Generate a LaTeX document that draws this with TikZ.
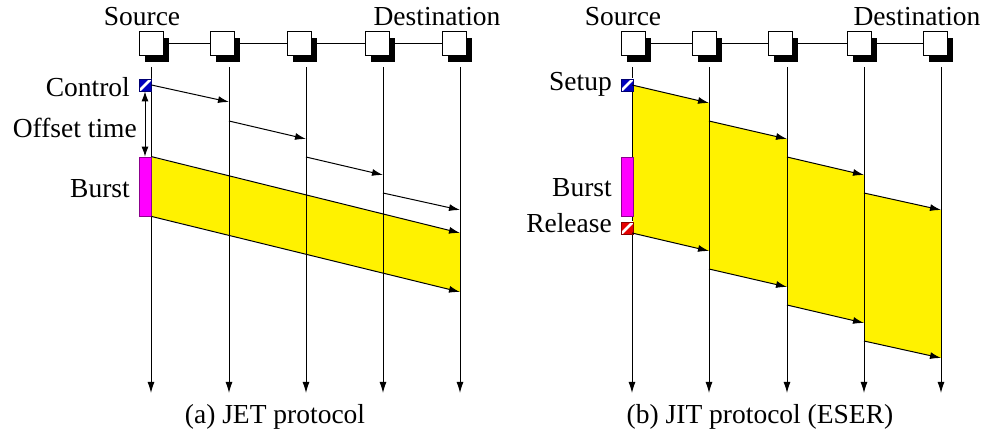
\documentclass[tikz,border=0pt]{standalone}
\usepackage{fontspec}
\setmainfont{LiberationSerif}[Extension=.ttf, UprightFont=*-Regular]
\usetikzlibrary{arrows.meta,shadows}
\definecolor{ctlblue}{RGB}{0,0,190}
\definecolor{ctlred}{RGB}{230,0,0}
\definecolor{burstmag}{RGB}{255,0,255}
\begin{document}
\begin{tikzpicture}[x=1pt,y=-1pt,
  lbl/.style={font=\rmfamily\fontsize{27.5}{30}\selectfont, inner sep=0pt},
  station/.style={draw, fill=white, minimum size=24pt, inner sep=0pt, line width=1pt,
    drop shadow={shadow xshift=6pt, shadow yshift=-6pt, fill=black, opacity=1}},
  link/.style={line width=1pt},
  timeline/.style={line width=1pt, -{Latex[length=11pt,width=7pt]}},
  msg/.style={line width=1pt, -{Latex[length=11pt,width=7pt]}},
  band/.style={fill=yellow},
  burstbox/.style={draw=burstmag!55!black, fill=burstmag, line width=0.8pt,
    minimum width=12pt, minimum height=59pt, inner sep=0pt},
  hatchbox/.style={draw=#1!60!black, fill=#1, line width=0.8pt,
    minimum size=12pt, inner sep=0pt,
    path picture={\draw[white, line width=2.6pt]
      ([xshift=-2pt,yshift=-2pt]path picture bounding box.south west) --
      ([xshift=2pt,yshift=2pt]path picture bounding box.north east);}},
]
\useasboundingbox (0,0) rectangle (986,438);

% ---------------- (a) JET ----------------
% yellow burst band
\fill[band] (151,157) -- (460,233) -- (460,292) -- (151,216) -- cycle;

% node time lines
\foreach \x [count=\i] in {151,229,306,383,460}{
  \coordinate (at\i) at (\x,67);
  \coordinate (ab\i) at (\x,393);
  \draw[timeline] (at\i) -- (ab\i);
}

% stations
\foreach \x [count=\i] in {151,222,299,377,454}
  \node[station] (s\i) at (\x,44) {};
\foreach \i/\j in {1/2,2/3,3/4,4/5}
  \draw[link] (s\i) -- (s\j);
\foreach \i in {1,...,5}
  \node[station] at (s\i) {};

\node[lbl, anchor=base] (srcA) at (142,26) {Source};
\node[lbl, anchor=base] (dstA) at (437,26) {Destination};

% control packet and burst
\node[hatchbox=ctlblue] (ctlA) at (145,85) {};
\node[burstbox] (burstA) at (145,186.5) {};
\node[lbl, anchor=base east] (lctl) at (130,97) {Control};
\node[lbl, anchor=base east] (loff) at (137,138) {Offset time};
\node[lbl, anchor=base east] (lbA) at (130,198) {Burst};
\draw[line width=1pt, {Latex[length=10pt,width=7pt]}-{Latex[length=10pt,width=7pt]}]
  (ctlA.south) -- (burstA.north);

% control message hops
\coordinate (c1e) at (229,102);
\coordinate (c2s) at (229,121); \coordinate (c2e) at (306,139);
\coordinate (c3s) at (306,157); \coordinate (c3e) at (383,175);
\coordinate (c4s) at (383,193); \coordinate (c4e) at (460,210);
\draw[msg] (ctlA.east) -- (c1e);
\draw[msg] (c2s) -- (c2e);
\draw[msg] (c3s) -- (c3e);
\draw[msg] (c4s) -- (c4e);

% burst edges
\coordinate (bte) at (460,233);
\coordinate (bbe) at (460,292);
\draw[msg] (burstA.north east) -- (bte);
\draw[msg] (burstA.south east) -- (bbe);

\node[lbl, anchor=base] (capA) at (275,424) {(a) JET protocol};

% ---------------- (b) JIT ----------------
% per-hop reserved periods
\fill[band] (632,85)  -- (709,103) -- (709,251) -- (632,233) -- cycle;
\fill[band] (709,121) -- (787,139) -- (787,287) -- (709,269) -- cycle;
\fill[band] (787,157) -- (864,175) -- (864,323) -- (787,305) -- cycle;
\fill[band] (864,193) -- (941,210) -- (941,358) -- (864,341) -- cycle;

\foreach \x [count=\i] in {632,709,787,864,941}{
  \coordinate (bt\i) at (\x,67);
  \coordinate (bb\i) at (\x,393);
  \draw[timeline] (bt\i) -- (bb\i);
}

\foreach \x [count=\i] in {633,704,780,859,935}
  \node[station] (t\i) at (\x,44) {};
\foreach \i/\j in {1/2,2/3,3/4,4/5}
  \draw[link] (t\i) -- (t\j);
\foreach \i in {1,...,5}
  \node[station] at (t\i) {};

\node[lbl, anchor=base] (srcB) at (623,26) {Source};
\node[lbl, anchor=base] (dstB) at (917,26) {Destination};

\node[hatchbox=ctlblue] (setup) at (627,85) {};
\node[burstbox] (burstB) at (627,186.5) {};
\node[hatchbox=ctlred] (rel) at (627,228) {};
\node[lbl, anchor=base east] (lsetup) at (612,91) {Setup};
\node[lbl, anchor=base east] (lbB) at (612,197) {Burst};
\node[lbl, anchor=base east] (lrel) at (612,233) {Release};

% setup hops (tops of the bands)
\coordinate (u1s) at (632,85);  \coordinate (u1e) at (709,103);
\coordinate (u2s) at (709,121); \coordinate (u2e) at (787,139);
\coordinate (u3s) at (787,157); \coordinate (u3e) at (864,175);
\coordinate (u4s) at (864,193); \coordinate (u4e) at (941,210);
% release hops (bottoms of the bands)
\coordinate (r1s) at (632,233); \coordinate (r1e) at (709,251);
\coordinate (r2s) at (709,269); \coordinate (r2e) at (787,287);
\coordinate (r3s) at (787,305); \coordinate (r3e) at (864,323);
\coordinate (r4s) at (864,341); \coordinate (r4e) at (941,358);
\foreach \i in {1,...,4}{
  \draw[msg] (u\i s) -- (u\i e);
  \draw[msg] (r\i s) -- (r\i e);
}

\node[lbl, anchor=base] (capB) at (760,424) {(b) JIT protocol (ESER)};
\end{tikzpicture}
\end{document}
